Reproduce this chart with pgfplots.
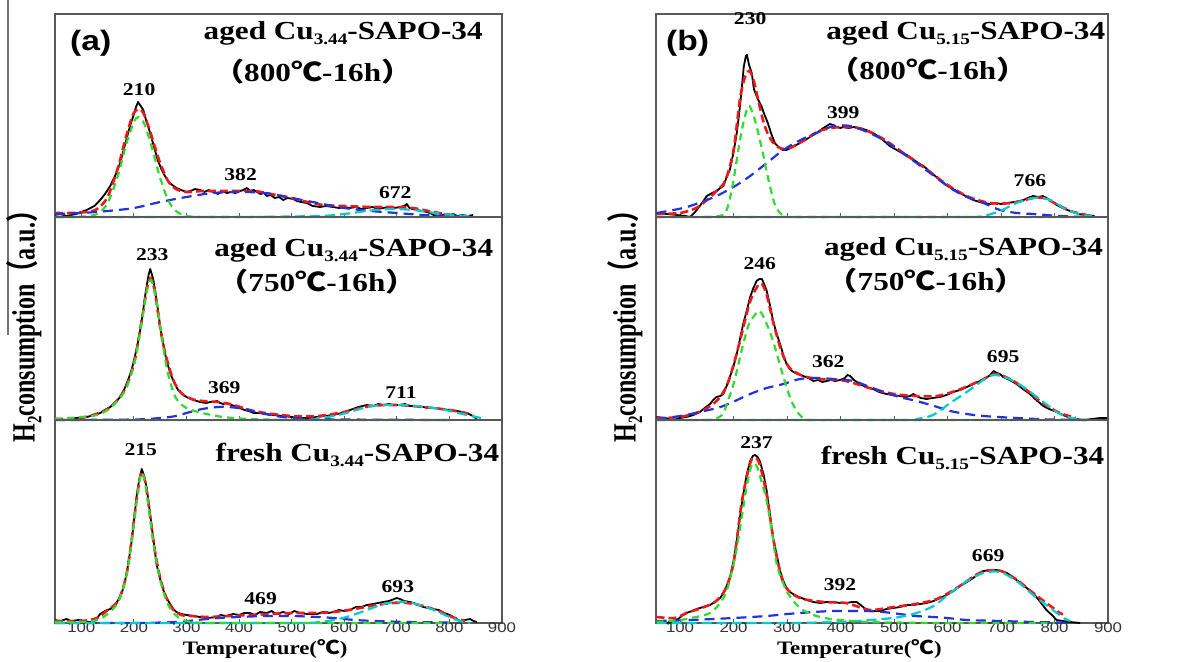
\documentclass[border=0pt]{standalone}
\usepackage{fontspec}
\setmainfont{Liberation Serif}
\setsansfont{Liberation Sans}
\newfontfamily\cjk{Noto Sans CJK SC}
\usepackage{graphicx}
\usepackage{pgfplots}
\pgfplotsset{compat=1.18}
\definecolor{fitred}{HTML}{F01818}
\definecolor{pkgreen}{HTML}{2EDB2E}
\definecolor{pkblue}{HTML}{2233DD}
\definecolor{pkcyan}{HTML}{00CCCC}
\newcommand{\sx}[1]{\scalebox{1.2}[1]{#1}}
\newcommand{\sub}[1]{\raisebox{-0.45ex}{\fontsize{8}{8}\selectfont #1}}
\newcommand{\subs}[1]{\raisebox{-0.45ex}{\fontsize{7.5}{8}\selectfont #1}}
\pgfplotsset{
  sub/.style={scale only axis, width=#1, height=101.5pt, ymin=0, ymax=203, clip=false,
    ytick=\empty, xtick={100,200,...,900}, xticklabels={}, tick align=inside,
    xtick pos=bottom, major tick length=2pt,
    axis line style={black!65, line width=0.6pt}, tick style={black!65, line width=0.5pt}},
  ticks/.style={xticklabels={\sx{100},\sx{200},\sx{300},\sx{400},\sx{500},\sx{600},\sx{700},\sx{800},\sx{900}},
    xticklabel style={font=\fontsize{7}{8}\selectfont\sffamily, text=black!80, inner sep=0pt, yshift=0.5pt}},
}
\tikzset{
  bk/.style={black, line width=0.9pt, line join=round},
  rd/.style={fitred, line width=1.3pt, dash pattern=on 4pt off 2pt, smooth},
  gn/.style={pkgreen, line width=1.1pt, dash pattern=on 3.5pt off 2.5pt, smooth},
  bl/.style={pkblue, line width=1.1pt, dash pattern=on 5pt off 3pt, smooth},
  cy/.style={pkcyan, line width=1.1pt, dash pattern=on 5pt off 2.5pt, smooth},
  lab/.style={font=\fontsize{9}{10}\selectfont\bfseries},
  ttl/.style={font=\fontsize{13}{15}\selectfont\bfseries},
  pan/.style={font=\fontsize{14}{16}\selectfont\sffamily\bfseries},
  xl/.style={font=\fontsize{9.5}{11}\selectfont\bfseries, inner sep=0pt},
  yl/.style={font=\fontsize{12}{14}\selectfont\bfseries, rotate=90, inner sep=0pt},
}
\begin{document}
\begin{tikzpicture}
\useasboundingbox (0,0) rectangle (597pt,330.5pt);
\draw[black!55, line width=0.7pt] (4pt,330.5pt) -- (4pt,163pt);
% ================= panel (a) top
\begin{axis}[sub=223.5pt, at={(27.5pt,222pt)}, anchor=south west, xmin=50, xmax=900]
\addplot[bk] coordinates {(50,2)(60,3)(72,1)(90,3)(110,7)(125,11)(136,17)(145,23)(155,31)(165,42)(174,54)(182,70)(189,84)(195,95)(199,101)(204,110)(208,115)(213,111)(218,107)(223,97)(227,91)(233,80)(240,67)(246,56)(253,47)(259,41)(265,36)(273,32)(281,29)(290,27)(300,25)(308,26)(316,28)(326,27)(334,25)(342,27)(351,25)(360,23)(368,26)(377,24)(385,25)(393,24)(402,26)(408,27)(415,29)(421,26)(428,27)(434,25)(441,23)(447,24)(453,21)(460,22)(468,19)(476,20)(484,17)(492,19)(503,18)(510,16)(518,15)(529,14)(540,11)(554,10)(565,11)(579,10)(590,9)(600,10)(611,9)(622,10)(633,8)(643,9)(654,10)(664,8)(674,9)(684,10)(695,9)(706,10)(714,11)(719,13)(724,9)(730,8)(738,7)(750,6)(763,4)(770,2)(776,1)(785,2)(795,3)(800,2)(807,3)(815,1)(825,2)(835,1)(845,2)};
\addplot[rd] coordinates {(50,4)(80,4)(110,5)(130,8)(150,20)(170,50)(185,80)(198,102)(208,108)(218,104)(230,87)(240,70)(250,54)(265,36)(280,28)(300,25)(330,26)(360,26)(400,26)(430,26)(460,23)(500,19)(530,15)(560,12)(600,11)(650,10)(690,10)(730,9)(760,6)(790,3)(810,1)};
\addplot[bl] coordinates {(50,3)(100,4)(150,6)(200,9)(250,15)(300,20)(350,24)(400,25)(450,24)(500,19)(550,14)(600,9)(650,6)(700,4)(750,2)(800,1)(830,0.5)};
\addplot[cy] coordinates {(50,0)(200,0)(400,0)(550,1)(600,3)(650,6.5)(690,8)(730,7)(780,3.5)(830,1)(850,0)};
\addplot[gn] coordinates {(50,0)(100,0.3)(130,3)(150,14)(170,42)(185,72)(200,95)(209,100)(220,93)(235,68)(250,39)(265,17)(280,6)(300,1)(330,0)(400,0)(500,0)(600,0)(700,0)(780,0)};
\node[pan] at (axis cs:118,174) {\sx{(a)}};
\node[ttl] at (axis cs:598,184) {\sx{aged Cu\sub{3.44}-SAPO-34}};
\node[ttl] at (axis cs:540,145) {\sx{{\cjk （}800{\cjk ℃}-16h{\cjk ）}}};
\node[lab] at (axis cs:210,127) {\sx{210}};
\node[lab] at (axis cs:403,42) {\sx{382}};
\node[lab] at (axis cs:697,24) {\sx{672}};
\end{axis}
% ================= panel (a) middle
\begin{axis}[sub=223.5pt, at={(27.5pt,120.5pt)}, anchor=south west, xmin=50, xmax=900]
\addplot[bk] coordinates {(50,1)(72,0)(90,2)(110,3)(125,5)(136,7)(145,10)(155,13)(165,18)(174,23)(182,31)(189,40)(195,49)(199,57)(206,73)(212,90)(217,107)(221,123)(225,136)(228,145)(231,151)(234,146)(237,140)(240,131)(243,120)(247,106)(250,93)(255,79)(259,67)(265,54)(272,43)(278,36)(284,30)(292,26)(300,23)(313,20)(326,18)(338,17)(345,18)(351,18)(358,19)(364,17)(370,16)(377,17)(385,15)(393,14)(402,12)(410,10)(418,9)(428,7)(440,7)(453,6)(465,5)(484,4)(500,3)(516,2)(530,2)(548,3)(563,4)(579,5)(595,7)(611,10)(627,13)(643,15)(655,14)(665,16)(674,15)(685,16)(695,15)(706,15)(715,16)(725,14)(738,14)(750,13)(760,12)(769,12)(785,11)(801,10)(815,9)(833,7)(845,4)(852,1)};
\addplot[rd] coordinates {(50,1)(100,2)(150,11)(180,28)(200,56)(215,100)(225,132)(232,142)(240,128)(250,92)(260,66)(275,40)(290,27)(310,21)(330,19)(360,18)(390,15)(420,10)(450,7)(500,4)(550,4)(600,8)(650,14)(700,15)(750,13)(800,10)(840,6)};
\addplot[bl] coordinates {(50,0)(200,0.5)(250,2)(280,4)(300,7)(330,11)(360,13)(380,13)(410,11)(440,7)(470,4)(500,2)(550,1)(600,0.5)(800,0)};
\addplot[cy] coordinates {(50,0)(500,0)(550,2)(580,4)(611,8)(643,13)(674,15)(706,15)(738,14)(769,12)(801,9)(833,5)(860,2)};
\addplot[gn] coordinates {(50,1)(100,3)(130,5)(150,10)(170,20)(185,31)(200,55)(210,82)(220,115)(226,132)(232,140)(238,132)(245,112)(255,76)(265,46)(280,22)(300,12)(330,7)(370,3)(420,1)(500,0)(600,0)(800,0)};
\node[ttl] at (axis cs:618,170) {\sx{aged Cu\sub{3.44}-SAPO-34}};
\node[ttl] at (axis cs:548,138) {\sx{{\cjk （}750{\cjk ℃}-16h{\cjk ）}}};
\node[lab] at (axis cs:235,165) {\sx{233}};
\node[lab] at (axis cs:372,32) {\sx{369}};
\node[lab] at (axis cs:708,27) {\sx{711}};
\node[yl] at (axis description cs:-0.069,0.49) {\scalebox{1}[1.35]{H\subs{2}consumption{\cjk （}a.u.{\cjk ）}}};
\end{axis}
% ================= panel (a) bottom
\begin{axis}[sub=223.5pt, ticks, at={(27.5pt,19pt)}, anchor=south west, xmin=50, xmax=900]
\addplot[bk] coordinates {(50,3)(60,2)(72,4)(80,2)(95,3)(104,2)(115,1)(123,1)(130,5)(136,9)(145,12)(155,14)(165,19)(174,26)(180,35)(186,49)(191,65)(196,83)(201,106)(205,126)(210,143)(215,154)(219,148)(224,136)(229,117)(234,96)(239,76)(243,59)(250,44)(256,33)(262,25)(269,19)(275,14)(281,11)(290,9)(300,8)(313,7)(326,6)(340,5)(358,6)(365,8)(375,7)(389,9)(400,8)(410,10)(421,10)(430,8)(440,11)(453,10)(462,12)(470,9)(484,11)(495,9)(505,12)(516,10)(530,9)(548,9)(560,11)(570,10)(579,11)(590,13)(600,12)(611,13)(622,16)(633,16)(643,18)(655,19)(664,20)(674,21)(685,22)(695,24)(700,25)(706,24)(714,22)(725,21)(738,19)(750,16)(760,15)(769,14)(780,13)(790,10)(801,8)(810,5)(820,2)(830,3)(839,4)(846,2)(852,1)};
\addplot[rd] coordinates {(50,2)(100,2)(130,5)(150,13)(170,22)(185,46)(195,80)(205,123)(214,150)(222,140)(232,102)(240,72)(250,45)(262,25)(275,13)(290,8)(310,7)(340,6)(380,7)(420,8)(460,9)(500,10)(540,10)(580,11)(620,14)(650,17)(690,20)(720,20)(750,17)(780,12)(810,5)(830,2)};
\addplot[bl] coordinates {(50,0)(200,0)(280,1)(320,3)(360,5)(400,6)(450,7)(500,7)(550,6)(580,5)(620,3)(660,2)(720,1)(800,0.5)};
\addplot[cy] coordinates {(50,0)(500,0)(550,1)(580,3)(611,7)(643,13)(674,19)(700,21)(720,21)(750,17)(770,13)(800,6)(820,2)(840,0)};
\addplot[gn] coordinates {(50,1)(100,1)(130,3)(150,9)(170,21)(185,45)(195,78)(205,120)(214,150)(222,138)(232,100)(240,70)(250,43)(262,22)(275,10)(290,4)(310,1)(350,0)(500,0)(800,0)};
\node[ttl] at (axis cs:625,168) {\sx{fresh Cu\sub{3.44}-SAPO-34}};
\node[lab] at (axis cs:213,173) {\sx{215}};
\node[lab] at (axis cs:441,24) {\sx{469}};
\node[lab] at (axis cs:702,36) {\sx{693}};
\node[xl] at (axis description cs:0.47,-0.128) {\sx{Temperature({\cjk ℃})}};
\end{axis}
% ================= panel (b) top
\begin{axis}[sub=226pt, at={(328pt,222pt)}, anchor=south west, xmin=55, xmax=900]
\addplot[bk] coordinates {(56,4)(75,3)(94,2)(110,1)(119,0)(128,5)(137,11)(145,17)(150,21)(160,24)(168,26)(175,29)(181,31)(187,40)(193,47)(200,65)(206,84)(211,106)(215,127)(219,150)(223,161)(225,162)(229,152)(234,144)(238,128)(243,121)(248,115)(252,111)(258,102)(264,94)(270,84)(277,74)(284,70)(292,67)(299,67)(310,70)(324,74)(340,79)(355,84)(368,89)(380,93)(386,92)(393,90)(400,89)(405,90)(415,89)(425,90)(436,89)(448,87)(461,84)(475,79)(492,71)(505,67)(515,64)(524,62)(535,58)(545,54)(555,51)(570,44)(586,37)(600,31)(617,26)(630,22)(648,17)(660,15)(670,14)(679,13)(690,14)(700,13)(711,14)(725,15)(735,16)(742,17)(750,19)(760,21)(770,20)(778,21)(785,19)(795,16)(804,12)(815,9)(829,6)(845,3)(860,2)(875,1)};
\addplot[rd] coordinates {(56,3)(100,4)(130,9)(150,17)(170,27)(185,37)(200,67)(212,118)(222,141)(230,146)(238,136)(246,117)(256,95)(266,81)(280,71)(300,68)(330,76)(360,86)(400,90)(440,88)(480,78)(520,63)(560,48)(600,32)(640,20)(680,14)(720,14)(760,19)(780,19)(800,14)(830,6)(860,2)};
\addplot[bl] coordinates {(56,4)(106,9)(140,15)(168,21)(200,30)(231,41)(262,54)(293,67)(325,77)(355,84)(387,91)(418,91)(450,85)(480,77)(510,66)(542,54)(575,41)(605,29)(636,20)(667,14)(698,7)(730,4)(760,3)(810,1)(860,0)};
\addplot[cy] coordinates {(56,0)(500,0)(640,0)(667,1)(698,6)(729,14)(760,19)(775,19)(792,17)(808,12)(823,7)(840,4)(854,2)(870,1)};
\addplot[gn] coordinates {(56,0)(150,0)(180,2)(187,7)(193,18)(200,37)(206,57)(212,77)(220,98)(228,111)(235,105)(243,91)(250,75)(256,61)(262,45)(268,31)(275,16)(281,8)(287,4)(295,1)(310,0)(500,0)(860,0)};
\node[pan] at (axis cs:114,174) {\sx{(b)}};
\node[ttl] at (axis cs:634,184) {\sx{aged Cu\sub{5.15}-SAPO-34}};
\node[ttl] at (axis cs:563,147) {\sx{{\cjk （}800{\cjk ℃}-16h{\cjk ）}}};
\node[lab] at (axis cs:231,198) {\sx{230}};
\node[lab] at (axis cs:405,104) {\sx{399}};
\node[lab] at (axis cs:754,36) {\sx{766}};
\end{axis}
% ================= panel (b) middle
\begin{axis}[sub=226pt, at={(328pt,120.5pt)}, anchor=south west, xmin=55, xmax=900]
\addplot[bk] coordinates {(56,3)(70,2)(87,1)(100,2)(112,3)(125,5)(137,8)(146,12)(156,16)(162,20)(168,23)(175,24)(181,26)(187,34)(193,43)(200,54)(206,66)(212,81)(218,96)(225,110)(231,123)(237,132)(243,139)(248,141)(253,141)(257,136)(262,129)(268,115)(274,99)(280,87)(287,76)(293,65)(299,56)(305,51)(312,48)(320,46)(330,44)(340,42)(349,39)(358,40)(366,38)(374,39)(382,40)(390,39)(399,40)(408,42)(413,45)(418,44)(425,40)(436,36)(448,33)(461,31)(472,28)(486,26)(498,25)(511,24)(522,23)(530,24)(536,26)(542,24)(550,22)(561,21)(572,22)(586,23)(598,25)(611,28)(623,30)(636,33)(648,36)(661,39)(672,42)(680,45)(686,49)(692,47)(698,46)(704,43)(716,40)(729,36)(741,31)(754,26)(766,20)(779,14)(790,11)(804,8)(816,5)(829,2)(841,1)(854,0)(870,1)(885,2)(898,2)};
\addplot[rd] coordinates {(56,2)(100,3)(140,9)(170,20)(190,38)(210,75)(230,117)(245,134)(253,136)(262,125)(275,96)(290,68)(305,52)(330,44)(360,41)(400,40)(430,36)(460,31)(500,26)(540,24)(580,24)(620,30)(660,39)(690,46)(720,40)(750,29)(780,16)(810,7)(840,2)};
\addplot[bl] coordinates {(56,1)(100,4)(137,8)(181,14)(231,26)(262,32)(293,36)(324,41)(355,42)(387,41)(424,39)(450,34)(480,28)(510,23)(542,19)(575,14)(605,9)(636,6)(667,4)(729,2)(792,0.5)(860,0)};
\addplot[cy] coordinates {(56,0)(520,0)(542,1)(573,5)(605,17)(636,28)(667,40)(686,45)(711,42)(742,33)(779,18)(810,6)(841,1)(860,0)};
\addplot[gn] coordinates {(56,0)(150,0)(170,2)(181,7)(190,20)(200,36)(210,58)(218,76)(228,95)(237,103)(249,109)(262,96)(272,82)(281,66)(290,49)(299,33)(309,18)(318,9)(330,2)(345,0)(500,0)(860,0)};
\node[ttl] at (axis cs:630,171) {\sx{aged Cu\sub{5.15}-SAPO-34}};
\node[ttl] at (axis cs:560,139) {\sx{{\cjk （}750{\cjk ℃}-16h{\cjk ）}}};
\node[lab] at (axis cs:249,156) {\sx{246}};
\node[lab] at (axis cs:377,58) {\sx{362}};
\node[lab] at (axis cs:704,63) {\sx{695}};
\node[yl] at (axis description cs:-0.0686,0.49) {\scalebox{1}[1.35]{H\subs{2}consumption{\cjk （}a.u.{\cjk ）}}};
\end{axis}
% ================= panel (b) bottom
\begin{axis}[sub=226pt, ticks, at={(328pt,19pt)}, anchor=south west, xmin=55, xmax=900]
\addplot[bk] coordinates {(56,1)(65,0)(75,0)(85,2)(94,3)(103,7)(112,10)(122,12)(131,14)(143,16)(156,18)(165,21)(175,25)(184,33)(193,45)(200,62)(206,82)(212,106)(218,128)(224,147)(231,162)(236,167)(240,168)(245,166)(249,162)(256,149)(262,132)(268,108)(274,85)(281,67)(287,52)(293,42)(299,35)(308,30)(318,27)(327,25)(337,23)(349,21)(362,20)(374,21)(387,21)(399,20)(411,20)(421,21)(430,21)(440,17)(449,13)(461,12)(474,12)(486,14)(499,15)(511,16)(524,18)(536,18)(549,19)(561,20)(574,22)(586,25)(598,28)(611,32)(623,37)(636,41)(648,45)(657,49)(667,52)(680,53)(692,53)(700,52)(711,50)(722,46)(736,40)(748,35)(760,30)(772,22)(785,13)(795,8)(804,3)(816,2)(829,1)(848,0)};
\addplot[rd] coordinates {(56,6)(90,5)(112,10)(140,15)(165,21)(184,33)(200,60)(215,120)(230,158)(238,165)(248,160)(262,128)(275,82)(290,45)(305,31)(330,24)(370,21)(410,20)(440,15)(460,13)(500,16)(540,19)(580,24)(620,36)(650,47)(670,52)(700,52)(730,43)(760,30)(790,18)(810,10)(816,9)};
\addplot[bl] coordinates {(56,2)(120,3)(200,5)(262,7)(300,9)(350,11)(387,12)(430,12)(449,12)(480,11)(510,9)(540,7)(574,6)(600,5)(636,3)(700,2)(760,1)(820,0.5)};
\addplot[cy] coordinates {(56,0)(300,0)(387,1)(430,2)(480,4)(511,6)(542,10)(574,17)(605,30)(636,42)(667,50)(698,51)(729,42)(760,28)(792,15)(817,5)(830,2)};
\addplot[gn] coordinates {(56,1)(100,3)(130,6)(156,10)(175,20)(187,32)(197,52)(206,75)(215,105)(224,135)(232,155)(238,160)(245,155)(253,140)(262,122)(272,90)(281,58)(290,44)(299,32)(312,22)(324,15)(340,10)(355,7)(380,4)(400,3)(449,1)(500,0.5)(600,0)(800,0)};
\node[ttl] at (axis cs:628,165) {\sx{fresh Cu\sub{5.15}-SAPO-34}};
\node[lab] at (axis cs:243,180) {\sx{237}};
\node[lab] at (axis cs:399,38) {\sx{392}};
\node[lab] at (axis cs:676,67) {\sx{669}};
\node[xl] at (axis description cs:0.45,-0.128) {\sx{Temperature({\cjk ℃})}};
\end{axis}
\end{tikzpicture}
\end{document}
